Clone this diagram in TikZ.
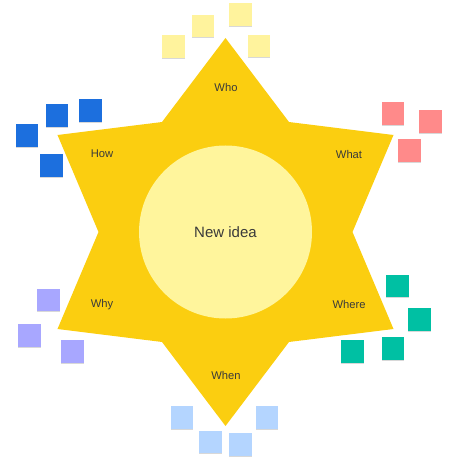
\documentclass[tikz,border=0pt]{standalone}
\usepackage{fontspec}
\setmainfont{Liberation Sans}
\usetikzlibrary{calc,shadows}
\definecolor{starfill}{HTML}{FBCE10}
\definecolor{corefill}{HTML}{FFF59C}
\definecolor{inkgray}{HTML}{3A3A3A}
\definecolor{noteyellow}{HTML}{FFF39D}
\definecolor{noteblue}{HTML}{1C6FDE}
\definecolor{notepink}{HTML}{FF8A8A}
\definecolor{notepurple}{HTML}{A8A7FF}
\definecolor{noteteal}{HTML}{00C0A3}
\definecolor{notesky}{HTML}{B4D5FF}

\begin{document}
\begin{tikzpicture}[x=1pt, y=-1pt, font=\fontsize{11.2}{13}\selectfont, text=inkgray]
\useasboundingbox (0,0) rectangle (465,465);
\tikzset{note/.style={minimum size=22.5pt, inner sep=0pt, fill=#1,
    drop shadow={shadow xshift=0pt, shadow yshift=-1.2pt, opacity=0.22, fill=black!70}}}
\coordinate (ctr) at (225.5,232);
% star points
\foreach \k in {0,...,5} {
  \coordinate (o\k) at ($(ctr)+(90+60*\k:194)$);
  \coordinate (i\k) at ($(ctr)+(120+60*\k:127)$);
}
\fill[starfill] (o0) -- (i0) -- (o1) -- (i1) -- (o2) -- (i2) -- (o3) -- (i3) -- (o4) -- (i4) -- (o5) -- (i5) -- cycle;
\node[circle, fill=corefill, minimum size=173pt, font=\fontsize{15}{17}\selectfont] (idea) at (ctr) {New idea};

\node (who) at (226,87) {Who};
\node (how) at (102,154) {How};
\node (what) at (349,154) {What};
\node (why) at (102,305) {Why};
\node (where) at (349,304) {Where};
\node (when) at (226,375) {When};

% sticky notes
\foreach \x/\y [count=\i] in {173.5/46.5, 203/26, 240.5/14.5, 259/46}
  \node[note=noteyellow] (y\i) at (\x,\y) {};
\foreach \x/\y [count=\i] in {27/135.5, 57/115.5, 90.5/110.5, 51.5/165.5}
  \node[note=noteblue] (b\i) at (\x,\y) {};
\foreach \x/\y [count=\i] in {393/113.5, 430.5/121.5, 409.5/150.5}
  \node[note=notepink] (p\i) at (\x,\y) {};
\foreach \x/\y [count=\i] in {48.5/300, 29.5/335.5, 72.5/351.5}
  \node[note=notepurple] (v\i) at (\x,\y) {};
\foreach \x/\y [count=\i] in {397.5/286, 419.5/319.5, 393/348.5, 352.5/351.5}
  \node[note=noteteal] (t\i) at (\x,\y) {};
\foreach \x/\y [count=\i] in {182/417.5, 210.5/442, 240.5/444.5, 267/417.5}
  \node[note=notesky] (s\i) at (\x,\y) {};
\end{tikzpicture}
\end{document}
